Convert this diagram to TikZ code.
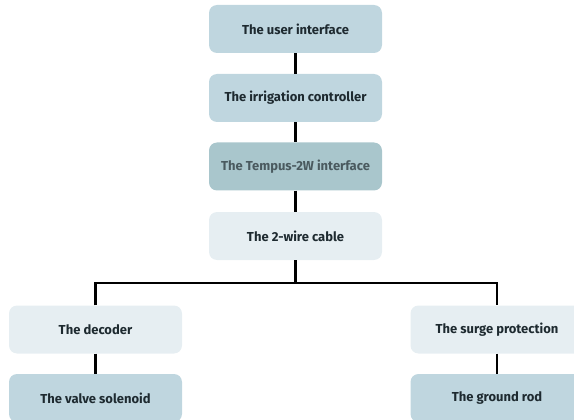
\documentclass[tikz,border=0pt]{standalone}
\usepackage{fontspec}
\setmainfont{Fira Sans}
\definecolor{midblue}{HTML}{BFD6DF}
\definecolor{darkteal}{HTML}{A9C6CC}
\definecolor{pale}{HTML}{E6EEF2}
\definecolor{txt}{HTML}{1E2A30}
\definecolor{txtgray}{HTML}{4A5A5F}
\begin{document}
\begin{tikzpicture}[x=1pt,y=-1pt,
  box/.style={rounded corners=8pt,minimum width=173pt,minimum height=48pt,inner sep=0pt,
    font=\fontsize{13}{15}\selectfont\bfseries,text=txt},
  link/.style={draw=black,line width=2.5pt}]
\useasboundingbox (0,0) rectangle (574,420);
\clip (0,0) rectangle (574,420);
\node[box,fill=midblue] (ui) at (295.5,29) {The user interface};
\node[box,fill=midblue] (ic) at (295.5,98) {The irrigation controller};
\node[box,fill=darkteal,text=txtgray] (tw) at (295.5,166.5) {The Tempus-2W interface};
\node[box,fill=pale] (cab) at (295.5,236) {The 2-wire cable};
\node[box,fill=pale] (dec) at (95.5,329.5) {The decoder};
\node[box,fill=midblue] (valve) at (95.5,398) {The valve solenoid};
\node[box,fill=pale] (surge) at (497,329.5) {The surge protection};
\node[box,fill=midblue] (rod) at (497,398) {The ground rod};
\coordinate (bus) at (295.5,283);
\draw[link] (ui) -- (ic);
\draw[link] (ic) -- (tw);
\draw[link] (tw) -- (cab);
\draw[link] (cab) -- (bus);
\draw[link] (dec.north) |- (bus) -| (surge.north);
\draw[link] (dec) -- (valve);
\draw[link] (surge) -- (rod);
\end{tikzpicture}
\end{document}
